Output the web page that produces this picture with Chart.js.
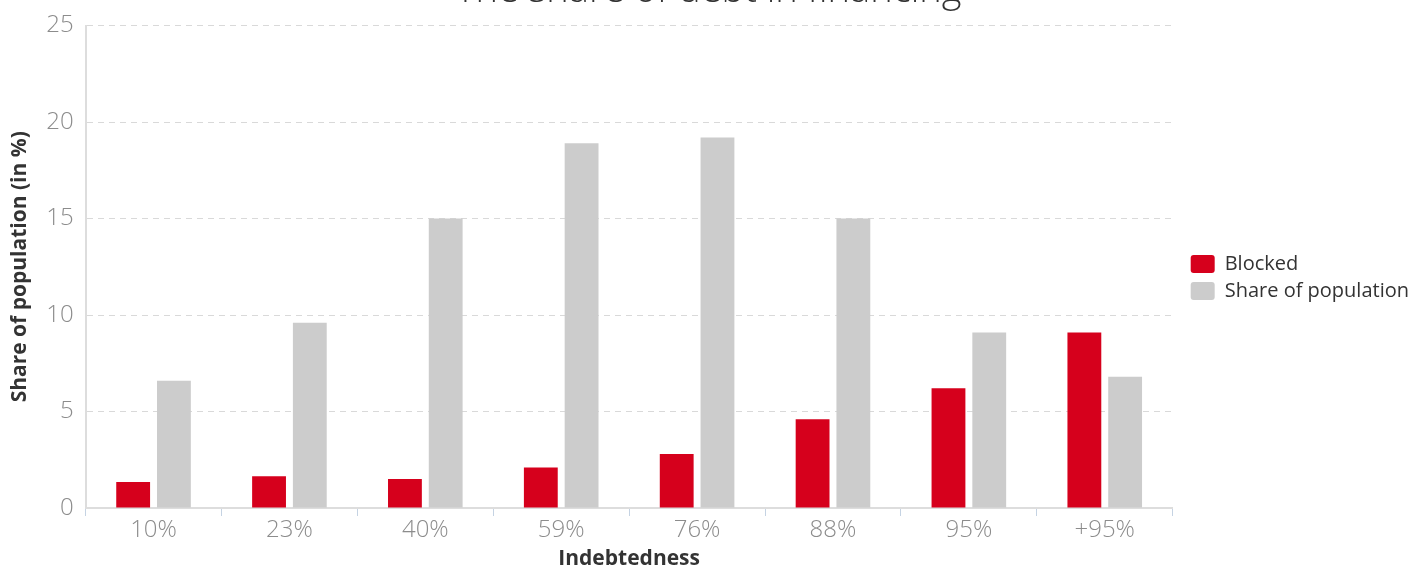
<!DOCTYPE html>
<html>
<head>
<meta charset="utf-8">
<script src="https://cdn.jsdelivr.net/npm/chart.js@4.4.1/dist/chart.umd.min.js"></script>
<style>
  body { margin: 0; overflow: hidden; background: #fff; }
  #chart { display: block; margin-top: -27px; }
</style>
</head>
<body>
<canvas id="chart" width="1414" height="599"></canvas>
<script>
var categories = ["10%", "23%", "40%", "59%", "76%", "88%", "95%", "+95%"];
var blocked = [1.35, 1.65, 1.5, 2.1, 2.8, 4.6, 6.2, 9.1];
var shareOfPopulation = [6.6, 9.6, 15.0, 18.9, 19.2, 15.0, 9.1, 6.8];

var tickFont = { family: "'Open Sans', sans-serif", size: 24, weight: 300 };

// legend sits a bit further from the plot than labels.padding allows
var legendNudge = {
    id: 'legendNudge',
    afterInit: function (chart) {
        var legend = chart.legend;
        var fit = legend.fit;
        legend.fit = function () {
            fit.apply(this, arguments);
            this.width += 6;
        };
        var draw = legend.draw;
        legend.draw = function () {
            var c = this.ctx;
            c.save();
            c.translate(11, 5);
            draw.apply(this, arguments);
            c.restore();
        };
    }
};

var ctx = document.getElementById("chart");
var myChart = new Chart(ctx, {
    type: 'bar',
    data: {
        labels: categories,
        datasets: [{
            label: "Blocked",
            data: blocked,
            backgroundColor: "#d6001c",
            categoryPercentage: 0.6,
            barPercentage: 0.83
        }, {
            label: "Share of population",
            data: shareOfPopulation,
            backgroundColor: "#cccccc",
            categoryPercentage: 0.6,
            barPercentage: 0.83
        }]
    },
    plugins: [legendNudge],
    options: {
        responsive: false,
        animation: false,
        layout: { padding: { left: 3, right: 0, bottom: 0 } },
        plugins: {
            title: {
                display: true,
                text: "The share of debt in financing",
                color: "#333",
                font: { family: "'Open Sans', sans-serif", size: 38, weight: 300 },
                padding: { top: -5, bottom: 12 }
            },
            legend: {
                position: 'right',
                labels: {
                    boxWidth: 24,
                    boxHeight: 18,
                    useBorderRadius: true,
                    borderRadius: 3,
                    color: "#333",
                    padding: 7,
                    font: { family: "'Open Sans', sans-serif", size: 20 }
                }
            },
            tooltip: { enabled: false }
        },
        scales: {
            x: {
                title: {
                    display: true,
                    text: "Indebtedness",
                    color: "#333",
                    font: { family: "'Open Sans', sans-serif", size: 21, weight: 'bold' },
                    padding: { top: 2, bottom: 0 }
                },
                ticks: { color: "#8c8c8c", font: tickFont, padding: 0 },
                grid: {
                    drawOnChartArea: false,
                    color: "#c5d3e3",
                    tickLength: 8
                },
                border: { color: "#dddddd", width: 2 }
            },
            y: {
                min: 0,
                max: 25,
                title: {
                    display: true,
                    text: "Share of population (in %)",
                    color: "#333",
                    font: { family: "'Open Sans', sans-serif", size: 21, weight: 'bold' },
                    padding: { bottom: 2 }
                },
                ticks: { stepSize: 5, color: "#8c8c8c", font: tickFont, padding: 12 },
                grid: { color: "#d9d9d9", drawTicks: false },
                border: { color: "#dddddd", width: 2, dash: [6, 5] }
            }
        }
    }
});
</script>
</body>
</html>
